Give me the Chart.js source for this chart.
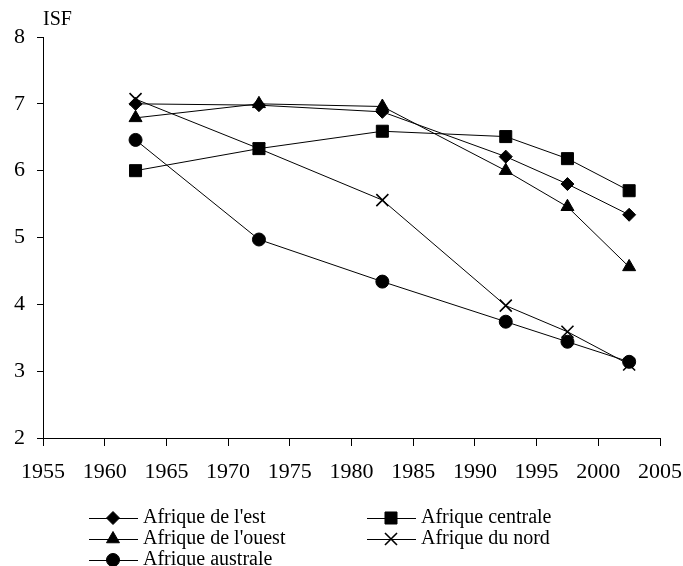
<!DOCTYPE html>
<html>
<head>
<meta charset="utf-8">
<script src="https://cdn.jsdelivr.net/npm/chart.js"></script>
<style>
  body { margin: 0; background: #fff; }
  #wrap { width: 683px; height: 566px; }
</style>
</head>
<body>
<div id="wrap"><canvas id="isf" width="683" height="566"></canvas></div>
<script>
// années (milieu des périodes quinquennales)
const annees = [1962.5, 1972.5, 1982.5, 1992.5, 1997.5, 2002.5];

const afriqueEst = [7.0, 6.98, 6.88, 6.21, 5.80, 5.34];
const afriqueCentrale = [6.0, 6.33, 6.59, 6.51, 6.18, 5.70];
const afriqueOuest = [6.79, 7.0, 6.96, 6.0, 5.46, 4.56];
const afriqueNord = [7.07, 6.33, 5.56, 3.98, 3.59, 3.10];
const afriqueAustrale = [6.46, 4.97, 4.34, 3.74, 3.44, 3.14];

const yTicks = [2, 3, 4, 5, 6, 7, 8];
const xTicks = [1955, 1960, 1965, 1970, 1975, 1980, 1985, 1990, 1995, 2000, 2005];

const police = '"Liberation Serif", "Times New Roman", serif';

function serie(label, valeurs, style, rayon, epaisseur) {
  return {
    label,
    data: valeurs.map((v, i) => ({ x: annees[i], y: v })),
    borderColor: "#000",
    backgroundColor: "#000",
    borderWidth: 1,
    pointStyle: style,
    pointRadius: rayon,
    pointHoverRadius: rayon,
    pointBorderWidth: epaisseur || 1,
    pointBackgroundColor: "#000",
    pointBorderColor: "#000",
    tension: 0,
    fill: false
  };
}

const datasets = [
  serie("Afrique de l'est", afriqueEst, "rectRot", 6.5),
  serie("Afrique centrale", afriqueCentrale, "rect", 8.5),
  serie("Afrique de l'ouest", afriqueOuest, "triangle", 7.5),
  serie("Afrique du nord", afriqueNord, "crossRot", 8.5, 1.6),
  serie("Afrique australe", afriqueAustrale, "circle", 6.5)
];

// légende et titre de l'axe dessinés à la main (ligne + marqueur)
const legendePlugin = {
  id: "legendeMaison",
  afterDraw(chart) {
    const ctx = chart.ctx;
    ctx.save();
    ctx.fillStyle = "#000";
    ctx.font = "20px " + police;
    ctx.textBaseline = "middle";
    ctx.textAlign = "left";
    ctx.fillText("ISF", 43, 20);

    const colonnes = [89, 367];
    const lignes = [518, 539, 560];
    chart.data.datasets.forEach((ds, i) => {
      const x0 = colonnes[i % 2];
      const y = lignes[Math.floor(i / 2)];
      ctx.strokeStyle = "#000";
      ctx.lineWidth = 1;
      ctx.beginPath();
      ctx.moveTo(x0, y + 0.5);
      ctx.lineTo(x0 + 49, y + 0.5);
      ctx.stroke();
      const opts = {
        pointStyle: ds.pointStyle,
        radius: ds.pointRadius,
        borderWidth: ds.pointBorderWidth,
        rotation: 0
      };
      ctx.fillStyle = "#000";
      ctx.strokeStyle = "#000";
      ctx.lineWidth = ds.pointBorderWidth;
      Chart.helpers.drawPoint(ctx, opts, x0 + 24, y);
      ctx.fillStyle = "#000";
      ctx.fillText(ds.label, x0 + 54, y);
    });
    ctx.restore();
  }
};

new Chart(document.getElementById("isf"), {
  type: "line",
  data: { datasets },
  plugins: [legendePlugin],
  options: {
    responsive: false,
    animation: false,
    layout: { padding: { top: 37, right: 23, bottom: 88, left: 0 } },
    plugins: { legend: { display: false }, tooltip: { enabled: false } },
    scales: {
      x: {
        type: "linear",
        min: 1955,
        max: 2005,
        afterFit: s => { s.height = 40; s.paddingRight = 0; s.paddingLeft = 0; },
        afterBuildTicks: s => { s.ticks = xTicks.map(v => ({ value: v })); },
        ticks: {
          color: "#000",
          font: { family: police, size: 22 },
          padding: 13,
          maxRotation: 0,
          callback: v => String(v)
        },
        grid: { display: true, drawOnChartArea: false, drawTicks: true, tickLength: 8, color: "#000" },
        border: { display: true, color: "#000", width: 1 }
      },
      y: {
        min: 2,
        max: 8,
        afterFit: s => { s.width = 43; s.paddingTop = 0; s.paddingBottom = 0; },
        afterBuildTicks: s => { s.ticks = yTicks.map(v => ({ value: v })); },
        ticks: {
          color: "#000",
          font: { family: police, size: 22 },
          padding: 12,
          callback: v => String(v)
        },
        grid: { display: true, drawOnChartArea: false, drawTicks: true, tickLength: 6, color: "#000" },
        border: { display: true, color: "#000", width: 1 }
      }
    }
  }
});
</script>
</body>
</html>
